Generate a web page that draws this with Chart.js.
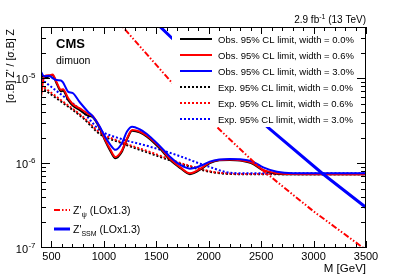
<!DOCTYPE html>
<html>
<head>
<meta charset="utf-8">
<script src="https://cdn.jsdelivr.net/npm/chart.js@4"></script>
<style>
  body { margin: 0; background: #fff; }
  canvas { display: block; }
</style>
</head>
<body>
<canvas id="limitChart" width="407" height="276"></canvas>
<script>
"use strict";

// observed limits, one mass grid for the three widths
const massObs = [400, 430, 480, 510, 550, 590, 610, 660, 700, 770, 850, 890, 960, 1010, 1060, 1110, 1170, 1220, 1270, 1340, 1410, 1530, 1630, 1730, 1820, 1940, 2010, 2100, 2200, 2300, 2420, 2520, 2650, 2800, 3500];
const obsWidth00 = [1.14e-5, 1.0e-5, 1.05e-5, 1.08e-5, 8.6e-6, 7.0e-6, 7.1e-6, 5.5e-6, 4.8e-6, 4.2e-6, 3.6e-6, 3.5e-6, 2.57e-6, 1.85e-6, 1.4e-6, 1.14e-6, 1.35e-6, 1.9e-6, 2.4e-6, 2.3e-6, 2.05e-6, 1.5e-6, 1.09e-6, 8.7e-7, 7.4e-7, 8.7e-7, 1.0e-6, 1.08e-6, 1.09e-6, 1.07e-6, 9.8e-7, 8.2e-7, 7.5e-7, 7.4e-7, 7.4e-7];
const obsWidth06 = [6.0e-6, 1.05e-5, 1.08e-5, 1.1e-5, 8.9e-6, 7.3e-6, 7.4e-6, 5.8e-6, 5.0e-6, 4.4e-6, 3.8e-6, 3.6e-6, 2.65e-6, 1.9e-6, 1.45e-6, 1.18e-6, 1.4e-6, 1.95e-6, 2.45e-6, 2.35e-6, 2.1e-6, 1.55e-6, 1.12e-6, 8.9e-7, 7.6e-7, 8.9e-7, 1.02e-6, 1.09e-6, 1.1e-6, 1.08e-6, 1.0e-6, 8.3e-7, 7.6e-7, 7.45e-7, 7.4e-7];
const obsWidth30 = [1.19e-5, 1.05e-5, 1.07e-5, 1.0e-5, 9.5e-6, 9.4e-6, 8.9e-6, 6.9e-6, 6.7e-6, 5.2e-6, 4.0e-6, 3.6e-6, 2.7e-6, 2.05e-6, 1.65e-6, 1.43e-6, 1.7e-6, 2.35e-6, 2.68e-6, 2.5e-6, 2.2e-6, 1.6e-6, 1.19e-6, 9.5e-7, 8.6e-7, 9.5e-7, 1.04e-6, 1.1e-6, 1.12e-6, 1.11e-6, 1.04e-6, 8.9e-7, 7.9e-7, 7.6e-7, 7.6e-7];

// expected limits
const massExp = [400, 600, 800, 960, 1150, 1440, 1730, 1920, 2010, 2150, 2300, 3500];
const expWidth00 = [7.8e-6, 5.2e-6, 3.4e-6, 2.2e-6, 1.75e-6, 1.3e-6, 9.8e-7, 8.4e-7, 7.9e-7, 7.5e-7, 7.4e-7, 7.4e-7];
const expWidth06 = [8.3e-6, 5.4e-6, 3.5e-6, 2.3e-6, 1.8e-6, 1.35e-6, 1.0e-6, 8.6e-7, 8.0e-7, 7.6e-7, 7.45e-7, 7.4e-7];
const expWidth30 = [9.8e-6, 6.3e-6, 4.0e-6, 2.45e-6, 1.95e-6, 1.56e-6, 1.2e-6, 9.8e-7, 9.0e-7, 7.9e-7, 7.6e-7, 7.6e-7];

// theory cross section ratios
const massPsi = [1100, 1185, 1650, 2100, 2500, 3000, 3500];
const xsecPsi = [5.0e-5, 3.94e-5, 8.8e-6, 2.5e-6, 8.5e-7, 2.7e-7, 9.5e-8];
const massSSM = [1450, 1545, 1650, 2570, 3090, 3500];
const xsecSSM = [5.1e-5, 3.94e-5, 2.95e-5, 2.59e-6, 7.44e-7, 3.0e-7];

const xTicks = [500, 1000, 1500, 2000, 2500, 3000, 3500];
const yExponents = [-7, -6, -5];
const legendLabels = [
  "Obs. 95% CL limit, width = 0.0%",
  "Obs. 95% CL limit, width = 0.6%",
  "Obs. 95% CL limit, width = 3.0%",
  "Exp. 95% CL limit, width = 0.0%",
  "Exp. 95% CL limit, width = 0.6%",
  "Exp. 95% CL limit, width = 3.0%",
];

const FONT = '"Liberation Sans", Arial, sans-serif';
const PSI_DASH = [6, 2, 1.5, 2, 1.5, 2];
const EXP_DASH = [2, 2];

const toPoints = (xs, ys) => xs.map((x, i) => ({ x: x, y: ys[i] }));

const obsLine = (data, color) => ({
  data: data,
  borderColor: color,
  borderWidth: 2,
  tension: 0.4,
  cubicInterpolationMode: "monotone",
  fill: false,
});
const expLine = (data, color) => ({
  data: data,
  borderColor: color,
  borderWidth: 2,
  borderDash: EXP_DASH,
  tension: 0.4,
  cubicInterpolationMode: "monotone",
  fill: false,
});

const legendStyles = [
  { color: "#000", dash: [] },
  { color: "#f00", dash: [] },
  { color: "#00f", dash: [] },
  { color: "#000", dash: EXP_DASH },
  { color: "#f00", dash: EXP_DASH },
  { color: "#00f", dash: EXP_DASH },
];

// draws base text plus a raised / lowered small piece, left to right
const drawParts = (ctx, parts, x, y) => {
  let cx = x;
  parts.forEach((p) => {
    ctx.font = p.size + "px " + FONT;
    ctx.fillText(p.text, cx, y + (p.dy || 0));
    cx += ctx.measureText(p.text).width;
  });
  return cx;
};
const partsWidth = (ctx, parts) => {
  let w = 0;
  parts.forEach((p) => {
    ctx.font = p.size + "px " + FONT;
    w += ctx.measureText(p.text).width;
  });
  return w;
};

const decor = {
  id: "decor",
  afterDatasetsDraw(chart) {
    const ctx = chart.ctx;
    const area = chart.chartArea;
    const xs = chart.scales.x;
    const ys = chart.scales.y;
    ctx.save();

    // legend box (covers the theory lines)
    ctx.fillStyle = "#fff";
    ctx.fillRect(172, area.top + 1, area.right - 173, 99);

    ctx.fillStyle = "#000";
    ctx.textBaseline = "alphabetic";
    legendLabels.forEach((label, i) => {
      const rowY = 39 + i * 16;
      ctx.strokeStyle = legendStyles[i].color;
      ctx.lineWidth = 2;
      ctx.setLineDash(legendStyles[i].dash);
      ctx.beginPath();
      ctx.moveTo(180, rowY);
      ctx.lineTo(212, rowY);
      ctx.stroke();
      ctx.font = "9.5px " + FONT;
      ctx.textAlign = "left";
      ctx.fillText(label, 218, rowY + 3.5);
    });

    // lower-left legend for theory
    ctx.strokeStyle = "#f00";
    ctx.lineWidth = 2;
    ctx.setLineDash(PSI_DASH);
    ctx.beginPath();
    ctx.moveTo(54, 210);
    ctx.lineTo(70, 210);
    ctx.stroke();
    ctx.strokeStyle = "#00f";
    ctx.lineWidth = 3;
    ctx.setLineDash([]);
    ctx.beginPath();
    ctx.moveTo(54, 229);
    ctx.lineTo(70, 229);
    ctx.stroke();
    ctx.textAlign = "left";
    drawParts(ctx, [
      { text: "Z'", size: 10.5 },
      { text: "ψ", size: 7.5, dy: 2.5 },
      { text: " (LOx1.3)", size: 10.5 },
    ], 73, 214);
    drawParts(ctx, [
      { text: "Z'", size: 10.5 },
      { text: "SSM", size: 7, dy: 2.5 },
      { text: " (LOx1.3)", size: 10.5 },
    ], 73, 233);

    // frame
    ctx.strokeStyle = "#000";
    ctx.lineWidth = 1;
    ctx.setLineDash([]);
    ctx.strokeRect(area.left + 0.5, area.top + 0.5, area.right - area.left - 1, area.bottom - area.top - 1);

    // x ticks, inside, bottom and top
    ctx.beginPath();
    for (let m = 500; m <= 3500; m += 100) {
      const px = Math.round(xs.getPixelForValue(m)) + 0.5;
      const len = xTicks.includes(m) ? 7 : 4;
      ctx.moveTo(px, area.bottom);
      ctx.lineTo(px, area.bottom - len);
      ctx.moveTo(px, area.top);
      ctx.lineTo(px, area.top + len);
    }
    // y ticks, log, left and right
    for (let e = -7; e <= -5; e++) {
      for (let k = 1; k <= 9; k++) {
        const v = k * Math.pow(10, e);
        if (v <= ys.min || v >= ys.max) continue;
        const py = Math.round(ys.getPixelForValue(v)) + 0.5;
        const len = k === 1 ? 9 : 5;
        ctx.moveTo(area.left, py);
        ctx.lineTo(area.left + len, py);
        ctx.moveTo(area.right, py);
        ctx.lineTo(area.right - len, py);
      }
    }
    ctx.stroke();

    // x tick labels
    ctx.fillStyle = "#000";
    ctx.font = "11px " + FONT;
    ctx.textAlign = "center";
    xTicks.forEach((m) => {
      ctx.fillText(String(m), xs.getPixelForValue(m), 260);
    });

    // y tick labels 10^e
    yExponents.forEach((e) => {
      const py = ys.getPixelForValue(Math.pow(10, e));
      ctx.textAlign = "right";
      ctx.font = "8px " + FONT;
      ctx.fillText(String(e), 35.5, py - 0.5);
      ctx.font = "11px " + FONT;
      ctx.fillText("10", 28, py + 4.5);
    });

    // axis titles
    ctx.textAlign = "right";
    ctx.font = "11.5px " + FONT;
    ctx.fillText("M [GeV]", area.right, 272);

    ctx.save();
    ctx.translate(14, area.top + 2);
    ctx.rotate(-Math.PI / 2);
    ctx.textAlign = "right";
    ctx.font = "10.5px " + FONT;
    ctx.fillText("[σ.B] Z' / [σ.B] Z", 0, 0);
    ctx.restore();

    // lumi label
    ctx.textAlign = "left";
    const lumi = [
      { text: "2.9 fb", size: 10 },
      { text: "-1", size: 7, dy: -4 },
      { text: " (13 TeV)", size: 10 },
    ];
    drawParts(ctx, lumi, area.right - partsWidth(ctx, lumi), 22.5);

    // CMS dimuon
    ctx.font = "bold 13px " + FONT;
    ctx.fillText("CMS", 56, 48);
    ctx.font = "10.5px " + FONT;
    ctx.fillText("dimuon", 56, 64);

    ctx.restore();
  },
};

const ctx = document.getElementById("limitChart").getContext("2d");
const limitChart = new Chart(ctx, {
  type: "line",
  data: {
    datasets: [
      {
        data: toPoints(massSSM, xsecSSM),
        borderColor: "#00f",
        borderWidth: 3,
        fill: false,
      },
      {
        data: toPoints(massPsi, xsecPsi),
        borderColor: "#f00",
        borderWidth: 2,
        borderDash: PSI_DASH,
        fill: false,
      },
      obsLine(toPoints(massObs, obsWidth30), "#00f"),
      obsLine(toPoints(massObs, obsWidth06), "#f00"),
      obsLine(toPoints(massObs, obsWidth00), "#000"),
      expLine(toPoints(massExp, expWidth30), "#00f"),
      expLine(toPoints(massExp, expWidth06), "#f00"),
      expLine(toPoints(massExp, expWidth00), "#000"),
    ],
  },
  options: {
    responsive: false,
    devicePixelRatio: 1,
    animation: false,
    layout: {
      padding: { left: 41, top: 27, right: 41, bottom: 28 },
    },
    elements: {
      point: { radius: 0 },
    },
    scales: {
      x: { type: "linear", min: 400, max: 3500, display: false },
      y: { type: "logarithmic", min: 1e-7, max: 4e-5, display: false },
    },
    plugins: {
      legend: { display: false },
      tooltip: { enabled: false },
    },
  },
  plugins: [decor],
});
</script>
</body>
</html>
